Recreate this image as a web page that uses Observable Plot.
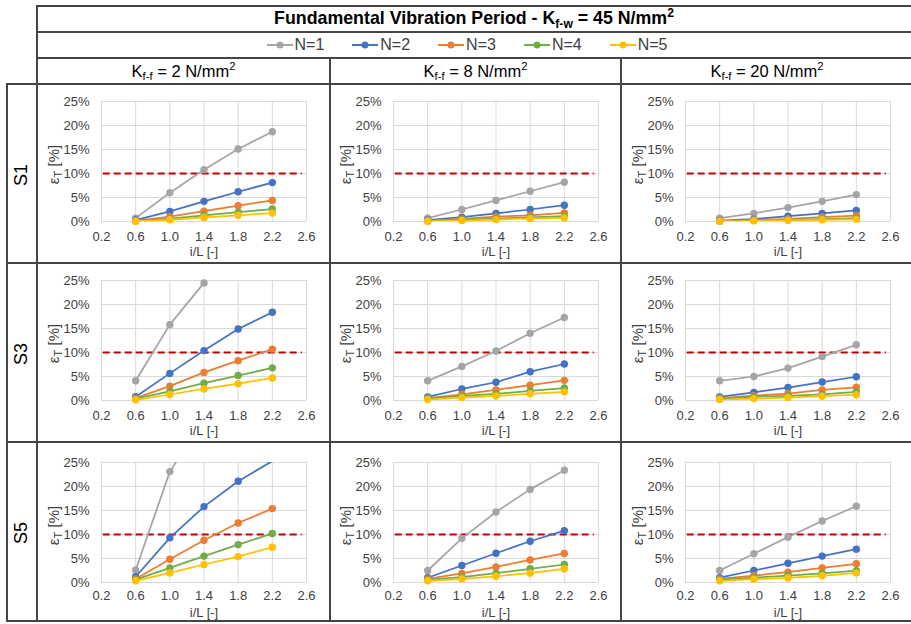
<!DOCTYPE html>
<html>
<head>
<meta charset="utf-8">
<script src="https://cdn.jsdelivr.net/npm/d3@7"></script>
<script src="https://cdn.jsdelivr.net/npm/@observablehq/plot@0.6"></script>
<style>
  body { margin: 0; background: #fff; font-family: "Liberation Sans", Arial, sans-serif; }
  #page { position: relative; width: 911px; height: 624px; overflow: hidden; background: #fff; }
  .hl, .vl { position: absolute; background: #454545; }
  .hl { height: 2px; }
  .vl { width: 2px; }
  .cell { position: absolute; display: flex; align-items: center; justify-content: center; color: #000; white-space: nowrap; }
  .title { font-weight: bold; font-size: 17.8px; }
  .sub { font-size: 16.5px; }
  .cell span.t { display: inline-block; line-height: 1; }
  sub { font-size: 0.68em; vertical-align: -0.3em; line-height: 0; }
  sup { font-size: 0.68em; vertical-align: 0.6em; line-height: 0; }
  .legend-item { display: flex; align-items: center; margin: 0 14px; font-size: 16px; color: #404040; }
  .legend-item svg { margin-right: 2px; }
  .rowlab { position: absolute; font-size: 18px; transform: translate(-50%, -50%) rotate(-90deg); white-space: nowrap; }
</style>
</head>
<body>
<div id="page"></div>
<script>
// i/L positions of the computed points
const xValues = [0.6, 1.0, 1.4, 1.8, 2.2];
const xTicks = [0.2, 0.6, 1.0, 1.4, 1.8, 2.2, 2.6];
const yTicks = [0, 5, 10, 15, 20, 25];
const seriesNames = ["N=1", "N=2", "N=3", "N=4", "N=5"];
const seriesColors = ["#a5a5a5", "#4472c4", "#ed7d31", "#70ad47", "#ffc000"];
const rowLabels = ["S1", "S3", "S5"];
const columnStiffness = ["2", "8", "20"];
const threshold = 10;

// ε_T [%] for each N (rows of each array), per section and K_f-f
const s1k2 = [
  [0.7, 6.0, 10.8, 15.1, 18.7],
  [0.3, 2.1, 4.2, 6.2, 8.1],
  [0.15, 1.0, 2.15, 3.3, 4.4],
  [0.1, 0.6, 1.3, 1.95, 2.6],
  [0.05, 0.35, 0.85, 1.3, 1.75]
];
const s1k8 = [
  [0.7, 2.5, 4.4, 6.3, 8.2],
  [0.3, 0.9, 1.7, 2.5, 3.4],
  [0.15, 0.55, 1.0, 1.3, 1.8],
  [0.1, 0.4, 0.6, 0.85, 1.1],
  [0.05, 0.2, 0.4, 0.6, 0.75]
];
const s1k20 = [
  [0.7, 1.7, 2.9, 4.2, 5.6],
  [0.2, 0.5, 1.1, 1.7, 2.3],
  [0.1, 0.3, 0.55, 0.9, 1.2],
  [0.05, 0.2, 0.35, 0.5, 0.7],
  [0.05, 0.15, 0.25, 0.35, 0.45]
];
const s3k2 = [
  [4.1, 15.8, 24.5, null, null],
  [0.8, 5.65, 10.4, 14.9, 18.4],
  [0.5, 3.0, 5.85, 8.3, 10.7],
  [0.4, 1.9, 3.6, 5.2, 6.8],
  [0.15, 1.25, 2.4, 3.5, 4.7]
];
const s3k8 = [
  [4.1, 7.1, 10.3, 14.0, 17.3],
  [0.75, 2.4, 3.8, 6.0, 7.6],
  [0.5, 1.3, 2.2, 3.2, 4.2],
  [0.4, 0.95, 1.4, 2.0, 2.6],
  [0.2, 0.6, 0.95, 1.4, 1.8]
];
const s3k20 = [
  [4.1, 5.0, 6.75, 9.15, 11.6],
  [0.75, 1.7, 2.7, 3.85, 4.95],
  [0.5, 1.0, 1.45, 2.2, 2.75],
  [0.35, 0.8, 0.95, 1.3, 1.8],
  [0.2, 0.4, 0.6, 0.9, 1.2]
];
const s5k2 = [
  [2.6, 23.1, 34, null, null],
  [1.2, 9.3, 15.8, 21.1, 25.3],
  [0.75, 4.85, 8.8, 12.4, 15.4],
  [0.6, 3.05, 5.5, 7.9, 10.2],
  [0.35, 2.0, 3.75, 5.4, 7.35]
];
const s5k8 = [
  [2.5, 9.2, 14.7, 19.4, 23.4],
  [1.0, 3.55, 6.1, 8.6, 10.8],
  [0.75, 1.9, 3.25, 4.7, 6.05],
  [0.6, 1.1, 1.95, 2.85, 3.75],
  [0.35, 0.75, 1.3, 1.95, 2.85]
];
const s5k20 = [
  [2.5, 6.0, 9.45, 12.8, 15.9],
  [1.0, 2.5, 4.0, 5.5, 6.95],
  [0.75, 1.45, 2.15, 3.05, 3.9],
  [0.6, 1.0, 1.45, 1.9, 2.45],
  [0.35, 0.7, 0.95, 1.4, 2.0]
];
const panelData = [
  [s1k2, s1k8, s1k20],
  [s3k2, s3k8, s3k20],
  [s5k2, s5k8, s5k20]
];

// table geometry
const colEdges = [37, 330, 621, 913];
const rowEdges = [84, 263, 442, 621];
const plotTops = [101, 280, 462];
const tickPads = [10, 10, 8];
const plotH = 120;

const page = document.getElementById("page");
function el(tag, cls, css, html) {
  const e = document.createElement(tag);
  if (cls) e.className = cls;
  Object.assign(e.style, css);
  if (html != null) e.innerHTML = html;
  page.appendChild(e);
  return e;
}

// borders of the table
[6, 32, 58].forEach(y => el("div", "hl", {left: "37px", top: (y - 1) + "px", width: "880px"}));
rowEdges.forEach(y => el("div", "hl", {left: "6px", top: (y - 1) + "px", width: "910px"}));
el("div", "vl", {left: "36px", top: "5px", height: (rowEdges[3] - 4) + "px"});
el("div", "vl", {left: "6px", top: "83px", height: (rowEdges[3] - 82) + "px"});
[colEdges[1], colEdges[2]].forEach(x => el("div", "vl", {left: (x - 1) + "px", top: "57px", height: (rowEdges[3] - 56) + "px"}));

// header rows
el("div", "cell title", {left: "37px", top: "6px", width: "874px", height: "26px"},
  '<span class="t">Fundamental Vibration Period - K<sub>f-w</sub> = 45 N/mm<sup>2</sup></span>');

const legend = el("div", "cell", {left: "30px", top: "32px", width: "874px", height: "26px"});
seriesNames.forEach((name, i) => {
  const item = document.createElement("div");
  item.className = "legend-item";
  item.innerHTML = `<svg width="26" height="10"><line x1="0" y1="5" x2="26" y2="5" stroke="${seriesColors[i]}" stroke-width="2"/><circle cx="13" cy="5" r="3.5" fill="${seriesColors[i]}"/></svg><span>${name}</span>`;
  legend.appendChild(item);
});

columnStiffness.forEach((k, c) => {
  el("div", "cell sub", {left: colEdges[c] + "px", top: "58px", width: (colEdges[c + 1] - colEdges[c]) + "px", height: "26px"},
    `<span class="t">K<sub>f-f</sub> = ${k} N/mm<sup>2</sup></span>`);
});

rowLabels.forEach((lab, r) => {
  el("div", "rowlab", {left: "21px", top: ((rowEdges[r] + rowEdges[r + 1]) / 2 + 1) + "px"}, lab);
});

// one small chart per cell
function panel(series, r, c) {
  const cellTop = rowEdges[r];
  const h = rowEdges[r + 1] - rowEdges[r];
  const mt = plotTops[r] - cellTop;
  const marks = [
    Plot.gridX(xTicks, {stroke: "#d9d9d9", strokeOpacity: 1}),
    Plot.gridY(yTicks, {stroke: "#d9d9d9", strokeOpacity: 1}),
    Plot.ruleY([threshold], {x1: 0.22, x2: 2.55, stroke: "#c00000", strokeWidth: 2, strokeDasharray: "7,4"})
  ];
  series.forEach((vals, i) => {
    const pts = xValues.map((x, j) => ({x, y: vals[j]})).filter(d => d.y != null);
    marks.push(Plot.line(pts, {x: "x", y: "y", stroke: seriesColors[i], strokeWidth: 1.75, clip: true}));
    marks.push(Plot.dot(pts.filter(d => d.y <= 25), {x: "x", y: "y", fill: seriesColors[i], r: 3.7}));
  });
  marks.push(Plot.text(["i/L [-]"], {frameAnchor: "bottom", lineAnchor: "middle", dy: 30, fontSize: 13, fill: "#404040"}));
  marks.push(Plot.text(["εT [%]"], {frameAnchor: "left", textAnchor: "middle", lineAnchor: "middle", dx: -47, dy: 3, rotate: -90, fontSize: 15, fill: "#404040"}));

  const svg = Plot.plot({
    width: 290,
    height: h,
    marginLeft: 64,
    marginRight: 21,
    marginTop: mt,
    marginBottom: h - mt - plotH,
    x: {domain: [0.2, 2.6], ticks: xTicks, tickFormat: d3.format(".1f"), tickSize: 0, tickPadding: tickPads[r], label: null},
    y: {domain: [0, 25], ticks: yTicks, tickFormat: d => d + "%", tickSize: 0, tickPadding: 12, label: null},
    style: {fontFamily: "'Liberation Sans', Arial, sans-serif", fontSize: "13px", color: "#404040", background: "transparent", overflow: "visible"},
    marks
  });
  // subscript on the y label
  d3.select(svg).selectAll("text").filter(function () { return this.textContent === "εT [%]"; })
    .style("font-size", "15px")
    .html('ε<tspan dy="3" style="font-size:11px">T</tspan><tspan dy="-3" style="font-size:15px"> [%]</tspan>');
  svg.style.position = "absolute";
  svg.style.left = (colEdges[c] + (c === 1 ? -1 : 0)) + "px";
  svg.style.top = cellTop + "px";
  page.appendChild(svg);
}

panelData.forEach((row, r) => row.forEach((series, c) => panel(series, r, c)));
</script>
</body>
</html>
